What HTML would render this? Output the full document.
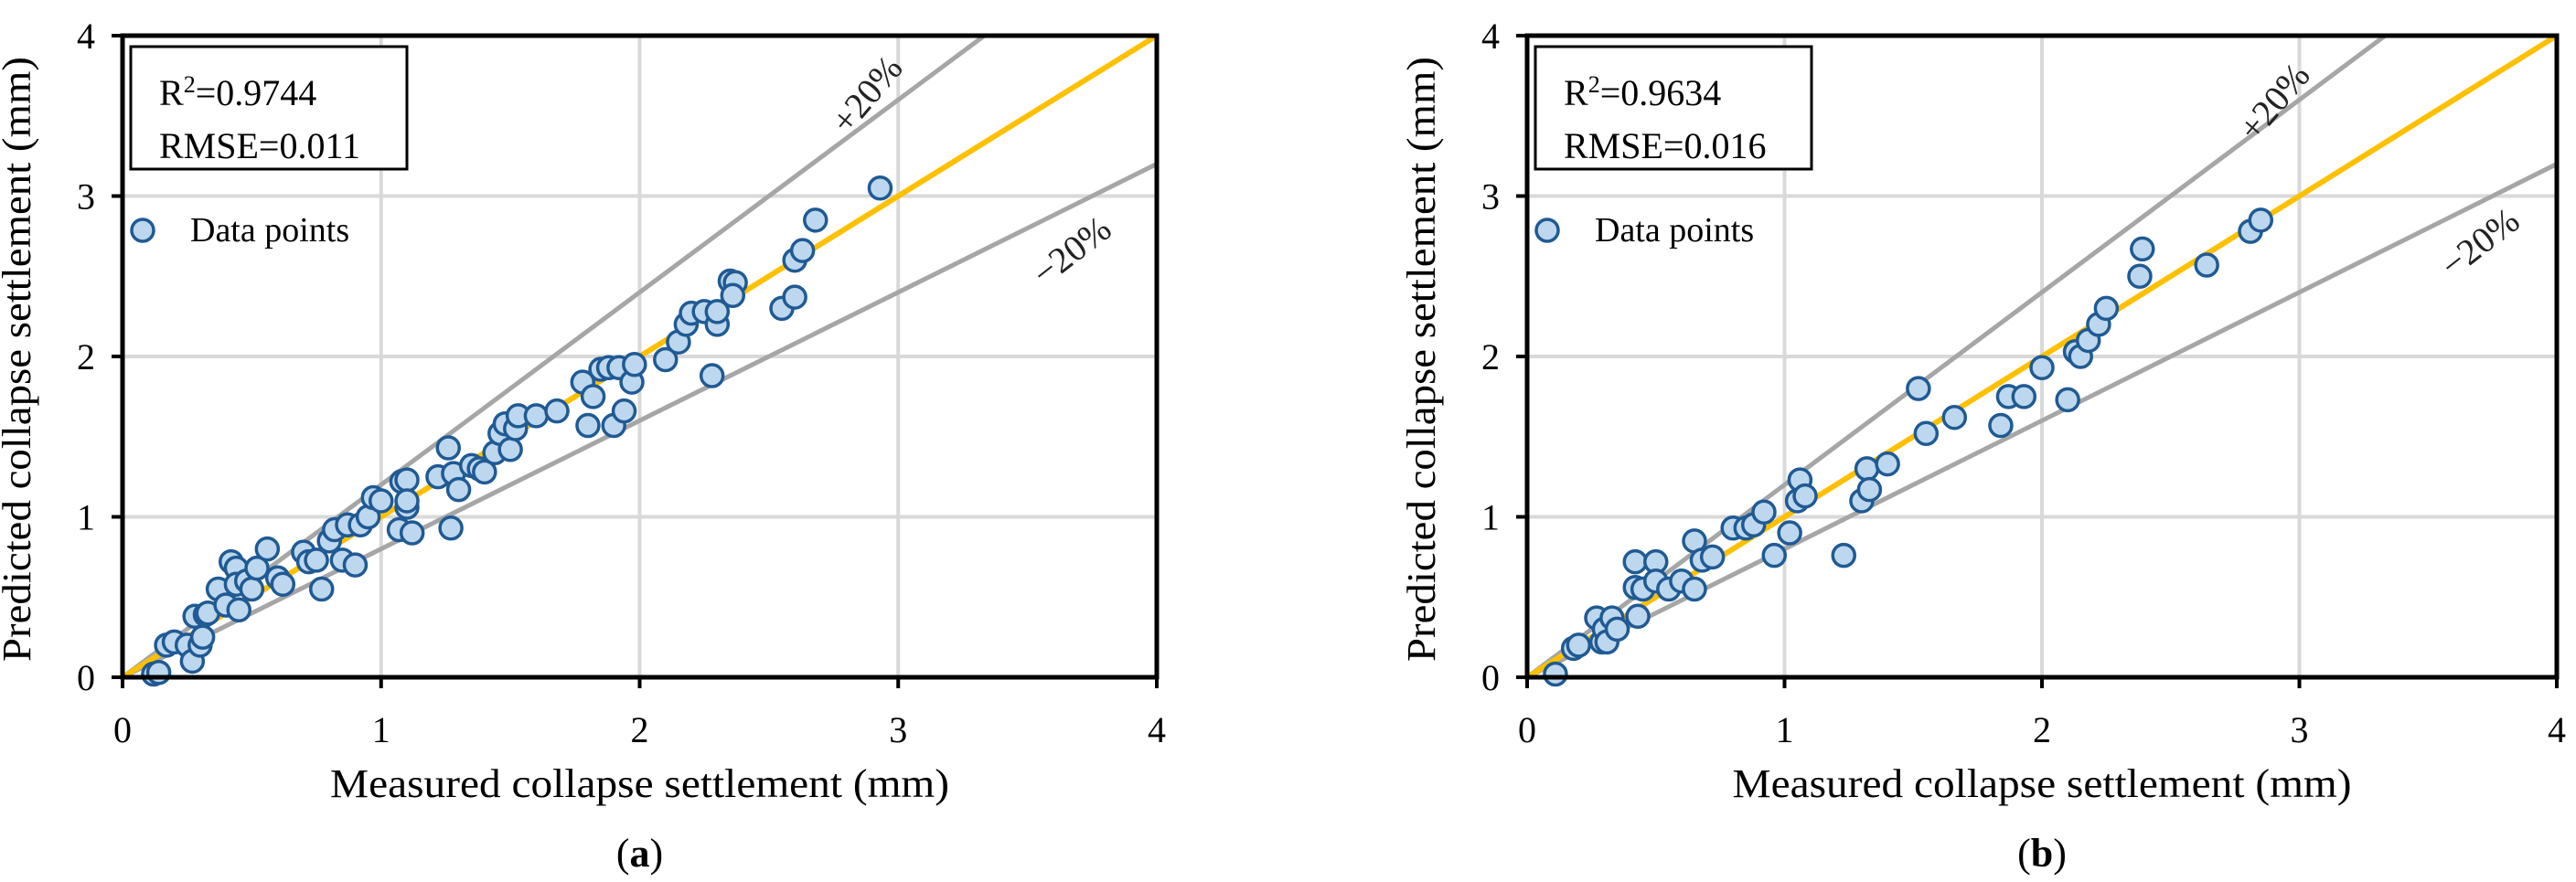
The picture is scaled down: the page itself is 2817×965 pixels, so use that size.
<!DOCTYPE html>
<html><head><meta charset="utf-8"><style>
html,body{margin:0;padding:0;background:#fff;}
svg{display:block;font-family:"Liberation Serif",serif;}
</style></head><body>
<svg id="fig" width="2817" height="965" viewBox="0 0 2817 965" xmlns="http://www.w3.org/2000/svg"></svg>
<script>
const ticks = [0,1,2,3,4];
const aX = [0.12,0.14,0.17,0.2,0.25,0.27,0.28,0.3,0.32,0.31,0.33,0.37,0.4,0.42,0.44,0.44,0.45,0.48,0.5,0.52,0.56,0.6,0.62,0.7,0.72,0.75,0.77,0.8,0.82,0.85,0.87,0.9,0.92,0.95,0.97,1.0,1.07,1.08,1.1,1.1,1.12,1.1,1.22,1.26,1.27,1.28,1.3,1.35,1.38,1.4,1.44,1.46,1.48,1.5,1.52,1.53,1.6,1.68,1.78,1.8,1.82,1.85,1.88,1.9,1.92,1.94,1.97,1.98,2.1,2.15,2.18,2.2,2.25,2.28,2.3,2.3,2.35,2.37,2.36,2.55,2.6,2.6,2.63,2.68,2.93];
const aY = [0.02,0.03,0.2,0.22,0.2,0.1,0.38,0.2,0.39,0.25,0.4,0.55,0.45,0.72,0.68,0.58,0.42,0.6,0.55,0.68,0.8,0.62,0.58,0.78,0.72,0.73,0.55,0.85,0.92,0.73,0.95,0.7,0.95,1.0,1.12,1.1,0.92,1.22,1.23,1.06,0.9,1.1,1.25,1.43,0.93,1.27,1.17,1.32,1.3,1.28,1.4,1.52,1.58,1.42,1.55,1.63,1.63,1.66,1.84,1.57,1.75,1.92,1.93,1.57,1.93,1.66,1.84,1.95,1.98,2.09,2.2,2.27,2.28,1.88,2.2,2.28,2.47,2.46,2.38,2.3,2.37,2.6,2.66,2.85,3.05];
const bX = [0.11,0.18,0.2,0.27,0.29,0.3,0.31,0.33,0.35,0.42,0.42,0.43,0.45,0.5,0.5,0.55,0.6,0.65,0.65,0.68,0.72,0.8,0.85,0.88,0.92,0.96,1.02,1.05,1.06,1.08,1.23,1.3,1.32,1.33,1.4,1.52,1.55,1.66,1.84,1.87,1.93,2.0,2.1,2.13,2.15,2.18,2.22,2.25,2.38,2.39,2.64,2.81,2.85];
const bY = [0.02,0.18,0.2,0.37,0.22,0.3,0.22,0.37,0.3,0.72,0.56,0.38,0.55,0.72,0.6,0.55,0.6,0.85,0.55,0.73,0.75,0.93,0.93,0.95,1.03,0.76,0.9,1.1,1.23,1.13,0.76,1.1,1.3,1.17,1.33,1.8,1.52,1.62,1.57,1.75,1.75,1.93,1.73,2.03,2.0,2.1,2.2,2.3,2.5,2.67,2.57,2.78,2.85];

const NS="http://www.w3.org/2000/svg";
const svg=document.getElementById('fig');
function mk(tag,attrs,parent,text){const e=document.createElementNS(NS,tag);for(const k in attrs)e.setAttribute(k,attrs[k]);if(text!==undefined)e.textContent=text;(parent||svg).appendChild(e);return e;}

function panel(id,x0,x1,xs,ys,r2,rmse,letter,plusPos,minusPos){
  const y0=741,y1=39;
  const sx=v=>x0+(x1-x0)*v/4, sy=v=>y0+(y1-y0)*v/4;
  const g=mk('g',{});
  
  
  ticks.slice(1,4).forEach(t=>{
    const gv=mk('line',{x1:sx(t),x2:sx(t),y1:y0,y2:y1,stroke:'#d9d9d9','stroke-width':4},g);
    
    
    const gh=mk('line',{x1:x0,x2:x1,y1:sy(t),y2:sy(t),stroke:'#d9d9d9','stroke-width':4},g);
    
    
  });
  const lp=mk('line',{x1:sx(0),y1:sy(0),x2:sx(4/1.2),y2:sy(4),stroke:'#a6a6a6','stroke-width':5},g);
  
  
  const lm=mk('line',{x1:sx(0),y1:sy(0),x2:sx(4),y2:sy(3.2),stroke:'#a6a6a6','stroke-width':5},g);
  
  
  const l1=mk('line',{x1:sx(0),y1:sy(0),x2:sx(4),y2:sy(4),stroke:'#ffc000','stroke-width':6},g);
  
  
  xs.forEach((v,i)=>{
    const c=mk('circle',{cx:sx(v),cy:sy(ys[i]),r:12,fill:'#bdd7ee',stroke:'#1f5a94','stroke-width':3.5},g);
    
    
  });
  const fr=mk('rect',{x:x0,y:y1,width:x1-x0,height:y0-y1,fill:'none',stroke:'#000','stroke-width':5},g);
  
  
  ticks.forEach(t=>{
    mk('line',{x1:x0-12,x2:x0,y1:sy(t),y2:sy(t),stroke:'#000','stroke-width':4},g);
    mk('line',{x1:sx(t),x2:sx(t),y1:y0,y2:y0+12,stroke:'#000','stroke-width':4},g);
    const ty=mk('text',{x:x0-40,y:sy(t)+14,'font-size':40,'text-anchor':'middle'},g,String(t));
    
    
    const tx=mk('text',{x:sx(t),y:812,'font-size':40,'text-anchor':'middle'},g,String(t));
    
    
  });
  const xt=mk('text',{x:(x0+x1)/2,y:872,'font-size':44,'text-anchor':'middle',textLength:677,lengthAdjust:'spacingAndGlyphs'},g,'Measured collapse settlement (mm)');
  
  
  const yt=mk('text',{x:0,y:0,'font-size':44,'text-anchor':'middle',textLength:662,lengthAdjust:'spacingAndGlyphs',transform:`translate(${x0-101},393) rotate(-90)`},g,'Predicted collapse settlement (mm)');
  
  
  const bx=mk('rect',{x:x0+9,y:51,width:302,height:134,fill:'#fff',stroke:'#000','stroke-width':3},g);
  
  
  const t1=mk('text',{x:x0+40,y:115,'font-size':40},g);
  
  
  mk('tspan',{},t1,'R');
  mk('tspan',{dy:-14,'font-size':26},t1,'2');
  mk('tspan',{dy:14},t1,'='+r2);
  const t2=mk('text',{x:x0+40,y:173,'font-size':40},g,'RMSE='+rmse);
  
  
  const lc=mk('circle',{cx:x0+22,cy:252,r:12,fill:'#bdd7ee',stroke:'#1f5a94','stroke-width':3.5},g);
  
  
  const lt=mk('text',{x:x0+74,y:264,'font-size':38},g,'Data points');
  
  
  const pt=mk('text',{x:0,y:0,'font-size':40,fill:'#222','text-anchor':'middle',transform:`translate(${plusPos[0]},${plusPos[1]}) rotate(-50)`},g,'+20%');
  
  
  const mt=mk('text',{x:0,y:0,'font-size':40,fill:'#222','text-anchor':'middle',transform:`translate(${minusPos[0]},${minusPos[1]}) rotate(-38)`},g,'\u221220%');
  
  
  const cap=mk('text',{x:(x0+x1)/2,y:948,'font-size':44,'text-anchor':'middle'},g);
  
  
  mk('tspan',{},cap,'(');
  mk('tspan',{'font-weight':'bold'},cap,letter);
  mk('tspan',{},cap,')');
}
panel('a',134,1265,aX,aY,'0.9744','0.011','a',[958,112],[1180,285]);
panel('b',1670,2796,bX,bY,'0.9634','0.016','b',[2497,120],[2720,276]);
</script>
</body></html>
